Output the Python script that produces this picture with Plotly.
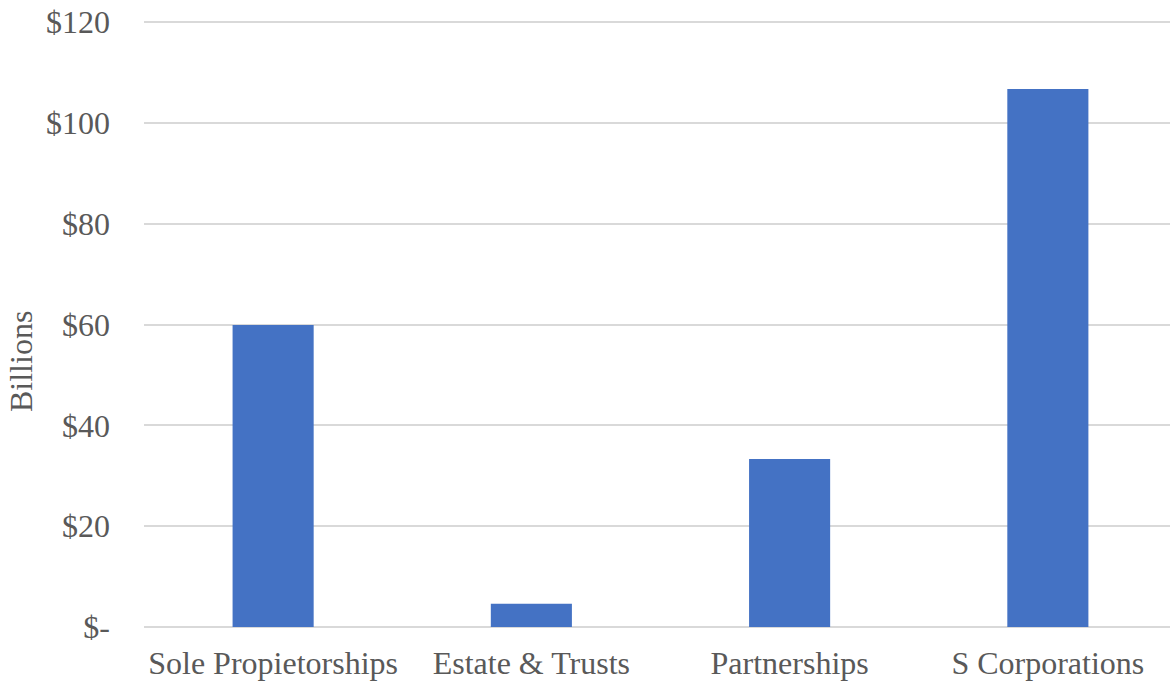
import plotly.graph_objects as go

categories = ["Sole Propietorships", "Estate & Trusts", "Partnerships", "S Corporations"]
values = [59.9, 4.6, 33.3, 106.7]
tick_vals = [0, 20, 40, 60, 80, 100, 120]
tick_text = ["$-", "$20", "$40", "$60", "$80", "$100", "$120"]

font_family = "Liberation Serif, Times New Roman, serif"
text_color = "#595959"

W, H = 1170, 683
ML, MR, MT, MB = 144, 0, 20, 56
plot_w = W - ML - MR
plot_h = H - MT - MB

fig = go.Figure(
    go.Bar(
        x=categories,
        y=values,
        marker=dict(color="#4472c4", line=dict(width=0)),
        hoverinfo="x+y",
    )
)

fig.update_layout(
    width=W,
    height=H,
    margin=dict(l=ML, r=MR, t=MT, b=MB),
    paper_bgcolor="white",
    plot_bgcolor="white",
    bargap=0.686,
    showlegend=False,
    font=dict(family=font_family, size=32, color=text_color),
    annotations=[
        dict(
            text="Billions",
            textangle=-90,
            xref="paper",
            yref="paper",
            x=(21 - ML) / plot_w,
            y=(H - MB - 362) / plot_h,
            xanchor="center",
            yanchor="middle",
            showarrow=False,
            font=dict(family=font_family, size=32, color=text_color),
        )
    ],
)

fig.update_yaxes(
    range=[0, 120.4],
    tickvals=tick_vals,
    ticktext=tick_text,
    showgrid=True,
    gridcolor="#d9d9d9",
    gridwidth=1.5,
    zeroline=True,
    zerolinecolor="#d9d9d9",
    zerolinewidth=1.5,
    showline=False,
    ticks="",
    ticklabelstandoff=33,
    ticklabeloverflow="allow",
    automargin=False,
    tickfont=dict(family=font_family, size=32, color=text_color),
    fixedrange=True,
)

# the reference's plot area runs slightly past the right edge of the image
fig.update_xaxes(
    range=[-0.5, 3.473],
    showgrid=False,
    showline=False,
    ticks="",
    ticklabelstandoff=14,
    ticklabeloverflow="allow",
    automargin=False,
    tickfont=dict(family=font_family, size=32, color=text_color),
    fixedrange=True,
)

fig.write_html(
    "out.html",
    config={"displayModeBar": False},
    post_script="document.body.style.margin='0';document.body.style.overflow='hidden';",
)
